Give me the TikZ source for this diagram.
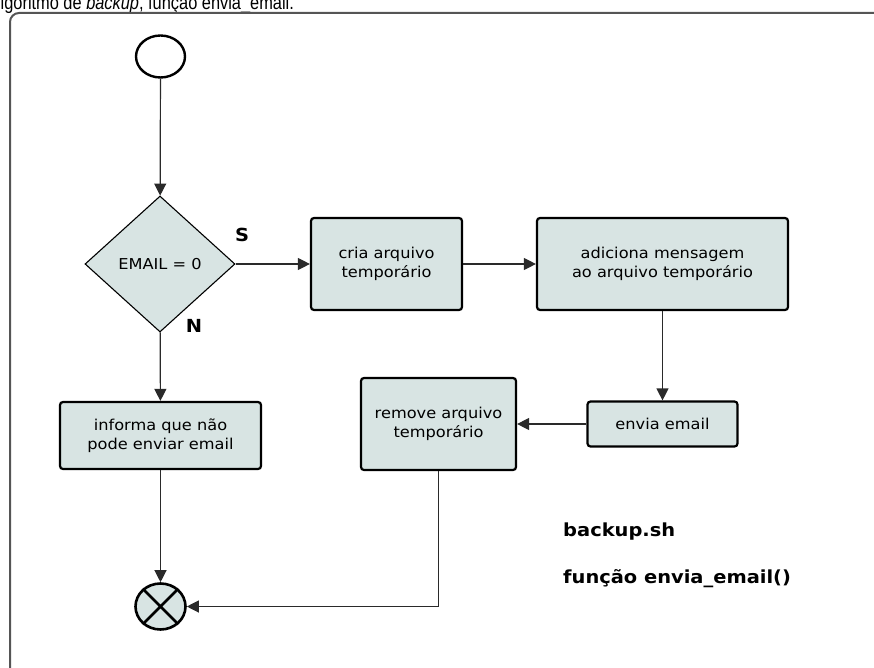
\documentclass[tikz,border=0pt]{standalone}
\usepackage{fontspec}
\setmainfont[FakeStretch=1.08]{DejaVu Sans}
\newfontfamily\capfont[FakeStretch=0.84]{Liberation Sans}
\usetikzlibrary{arrows.meta,shapes.geometric}
\definecolor{boxfill}{HTML}{D8E4E3}
\definecolor{framegray}{HTML}{555555}
\definecolor{linegray}{HTML}{2A2A2A}

\begin{document}
\begin{tikzpicture}[x=1pt,y=-1pt,
  font=\fontsize{15}{19}\selectfont,
  stepbox/.style={draw=black, line width=2.2pt, fill=boxfill, rounded corners=3pt, inner sep=0pt, align=center},
  flow/.style={draw=linegray, line width=1.2pt, -{Triangle[length=12pt,width=12pt]}},
  decision/.style={diamond, aspect=1.1, draw=black, line width=1.1pt, fill=boxfill, inner sep=0pt,
                   minimum width=150pt, minimum height=136pt},
  terminal/.style={ellipse, draw=black, inner sep=0pt},
  tag/.style={inner sep=0pt, font=\fontsize{18}{22}\selectfont\bfseries}
]
\clip (0,0) rectangle (874,668);

% caption line (runs off the top edge) and the page frame
\node[anchor=base west, inner sep=0pt, font=\capfont\fontsize{19.5}{22}\selectfont]
  (caption) at (0.5,9.5) {lgoritmo de \textit{backup}, função envia\_email.};
\draw[framegray, line width=2pt, rounded corners=9pt] (890,13) -- (10,13) -- (10,690);

% start and end points
\node[terminal, line width=2.4pt, fill=white, minimum width=49pt, minimum height=42pt] (start) at (160.5,56.5) {};
\node[terminal, line width=2.6pt, fill=boxfill, minimum width=50pt, minimum height=46pt] (stop) at (160.5,606.5) {};
\draw[line width=2.6pt] (stop.45) -- (stop.225) (stop.135) -- (stop.315);

% decision and process steps
\node[decision] (test) at (160,264) {EMAIL = 0};
\node[stepbox, minimum width=151pt, minimum height=92pt] (cria) at (386.5,264) {cria arquivo\\temporário};
\node[stepbox, minimum width=251pt, minimum height=92pt] (adic) at (662.5,264) {adiciona mensagem\\ao arquivo temporário};
\node[stepbox, minimum width=150pt, minimum height=45pt] (envia) at (662.5,424) {envia email};
\node[stepbox, minimum width=155pt, minimum height=92pt] (remove) at (438.5,424) {remove arquivo\\temporário};
\node[stepbox, minimum width=201pt, minimum height=67pt] (informa) at (160.5,435.5) {informa que não\\pode enviar email};

% branch labels and notes
\node[tag] (yes) at (242,235) {S};
\node[tag] (no) at (194,326) {N};
\node[tag, anchor=west] (file) at (563,532) {backup.sh};
\node[tag, anchor=west] (func) at (563,579) {função envia\_email()};

% connectors
\draw[flow] (start) -- (test);
\draw[flow] (test) -- (cria);
\draw[flow] (cria) -- (adic);
\draw[flow] (adic) -- (envia);
\draw[flow] (envia) -- (remove);
\draw[flow] (test) -- (informa);
\draw[flow] (informa) -- (stop);
\draw[flow] (remove.south) |- (stop.east);
\end{tikzpicture}
\end{document}
